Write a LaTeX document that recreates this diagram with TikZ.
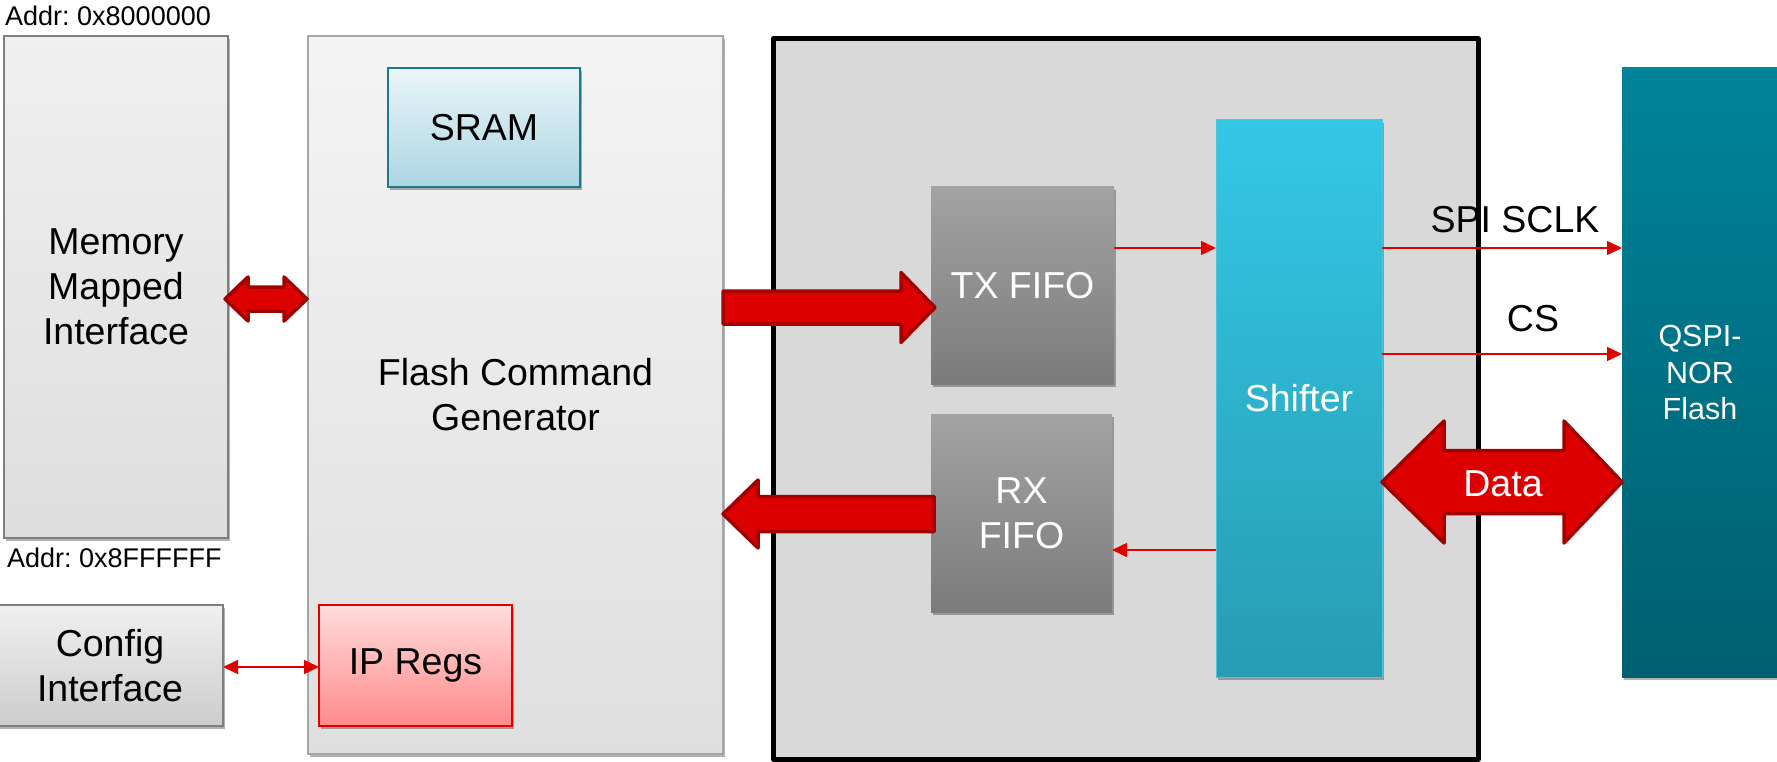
\documentclass[tikz,border=0pt]{standalone}
\usepackage{fontspec}
\setmainfont{Liberation Sans}
\usetikzlibrary{shadows,arrows.meta,calc}
\frenchspacing
\definecolor{redfill}{HTML}{DD0000}
\definecolor{redline}{HTML}{A30000}
\definecolor{thinred}{HTML}{E00000}
\definecolor{memtop}{HTML}{F0F0F0}
\definecolor{membot}{HTML}{DEDEDE}
\definecolor{boxline}{HTML}{7F7F7F}
\definecolor{fcgtop}{HTML}{F4F4F4}
\definecolor{fcgbot}{HTML}{DFDFDF}
\definecolor{fcgline}{HTML}{A6A6A6}
\definecolor{sramtop}{HTML}{EAF5FA}
\definecolor{srambot}{HTML}{ABD6E2}
\definecolor{sramline}{HTML}{1C7A87}
\definecolor{iptop}{HTML}{FFDCDC}
\definecolor{ipbot}{HTML}{FF8A8A}
\definecolor{bigfill}{HTML}{D9D9D9}
\definecolor{fifotop}{HTML}{A3A3A3}
\definecolor{fifobot}{HTML}{7B7B7B}
\definecolor{shtop}{HTML}{34C8E6}
\definecolor{shbot}{HTML}{279CB3}
\definecolor{shline}{HTML}{4CC4DC}
\definecolor{qtop}{HTML}{00849A}
\definecolor{qbot}{HTML}{005F70}
\begin{document}
\begin{tikzpicture}[x=1pt,y=-1pt,
  box/.style={anchor=north west, inner sep=0pt, outer sep=0pt, align=center,
    font=\fontsize{37.5}{45}\selectfont},
  shad/.style={drop shadow={shadow xshift=2pt, shadow yshift=-3pt, opacity=0.3, fill=black}},
  greybox/.style={box, top color=memtop, bottom color=membot, draw=boxline, line width=1.5pt, shad},
  fifobox/.style={box, top color=fifotop, bottom color=fifobot, text=white, shad},
  blockarrow/.style={fill=redfill, draw=redline, line width=3.5pt, line join=round},
  thinarrow/.style={draw=thinred, line width=1.5pt, -{Triangle[length=15pt,width=14pt]}},
  thinboth/.style={draw=thinred, line width=1.5pt, {Triangle[length=15pt,width=14pt]}-{Triangle[length=15pt,width=14pt]}},
  lbl/.style={inner sep=0pt, anchor=base, font=\fontsize{37.5}{45}\selectfont},
  addr/.style={inner sep=0pt, anchor=base west, font=\fontsize{27}{30}\selectfont}]
\useasboundingbox (0,0) rectangle (1777,762);

% helper rows
\coordinate (ymm) at (0,299);
\coordinate (ytx) at (0,307.5);
\coordinate (yrx) at (0,514);
\coordinate (ysclk) at (0,248);
\coordinate (ycs) at (0,354);
\coordinate (yout) at (0,550);
\coordinate (ydata) at (0,482);
\coordinate (yconf) at (0,667);

% address labels
\node[addr] (addrtop) at (5,26) {Addr: 0x8000000};
\node[addr] (addrbot) at (7,567) {Addr: 0x8FFFFFF};

% left side blocks
\node[greybox, minimum width=224pt, minimum height=502pt] (mem) at (4,36) {Memory\\Mapped\\Interface};
\node[box, top color=fcgtop, bottom color=fcgbot, draw=fcgline, line width=1.5pt, shad,
  minimum width=415pt, minimum height=718pt] (fcg) at (308,36) {Flash Command\\Generator};
\node[box, top color=sramtop, bottom color=srambot, draw=sramline, line width=2pt, shad,
  minimum width=192pt, minimum height=119pt] (sram) at (388,68) {SRAM};
\node[box, top color=iptop, bottom color=ipbot, draw=thinred, line width=2pt, shad,
  minimum width=193pt, minimum height=121pt] (ipregs) at (319,605) {IP Regs};
\node[greybox, top color=memtop, bottom color=membot!92!black, minimum width=226pt, minimum height=121pt] (config) at (-3,605) {Config\\Interface};

% controller frame
\node[box, fill=bigfill, minimum width=705pt, minimum height=720pt] (big) at (773,39) {};
\node[lbl] (sclk) at (1515,233) {SPI SCLK};
\node[lbl] (cs) at (1533,331) {CS};
\draw[line width=5pt, line join=round] (big.north west) rectangle (big.south east);

% inner blocks
\node[fifobox, minimum width=183pt, minimum height=197pt] (tx) at (931,187) {TX FIFO};
\node[fifobox, minimum width=181pt, minimum height=198pt] (rx) at (931,414) {RX\\FIFO};
\node[box, top color=shtop, bottom color=shbot, draw=shline, line width=1pt, text=white, shad,
  minimum width=166pt, minimum height=557pt] (shifter) at (1216,120) {Shifter};
\node[box, top color=qtop, bottom color=qbot, text=white, shad,
  font=\fontsize{30.5}{36.6}\selectfont,
  minimum width=156pt, minimum height=609pt] (qspi) at (1622,68) {QSPI-\\NOR\\Flash};

% block arrows
\draw[blockarrow] ($(mem.east |- ymm)+(-3,0)$) -- +(23,-22) -- +(23,-12) -- +(59,-12) -- +(59,-22)
  -- +(82,0) -- +(59,22) -- +(59,12) -- +(23,12) -- +(23,22) -- cycle;
\draw[blockarrow] (fcg.east |- ytx) -- +(0,-16.5) -- +(178,-16.5) -- +(178,-35) -- +(212,0)
  -- +(178,35) -- +(178,16.5) -- +(0,16.5) -- cycle;
\draw[blockarrow] (fcg.east |- yrx) -- +(35,-34) -- +(35,-17.5) -- +(211,-17.5) -- +(211,17.5)
  -- +(35,17.5) -- +(35,34) -- cycle;
\draw[blockarrow] (shifter.east |- ydata) -- +(62,-61) -- +(62,-31.5) -- +(182,-31.5) -- +(182,-61)
  -- +(240,0) -- +(182,61) -- +(182,31.5) -- +(62,31.5) -- +(62,61) -- cycle;
\node[lbl, text=white] (datalbl) at (1503,496) {Data};

% thin signal arrows
\draw[thinarrow] (tx.east |- ysclk) -- (shifter.west |- ysclk);
\draw[thinarrow] (shifter.west |- yout) -- (rx.east |- yout);
\draw[thinarrow] (shifter.east |- ysclk) -- (qspi.west |- ysclk);
\draw[thinarrow] (shifter.east |- ycs) -- (qspi.west |- ycs);
\draw[thinboth] (config.east |- yconf) -- (ipregs.west |- yconf);
\end{tikzpicture}
\end{document}
